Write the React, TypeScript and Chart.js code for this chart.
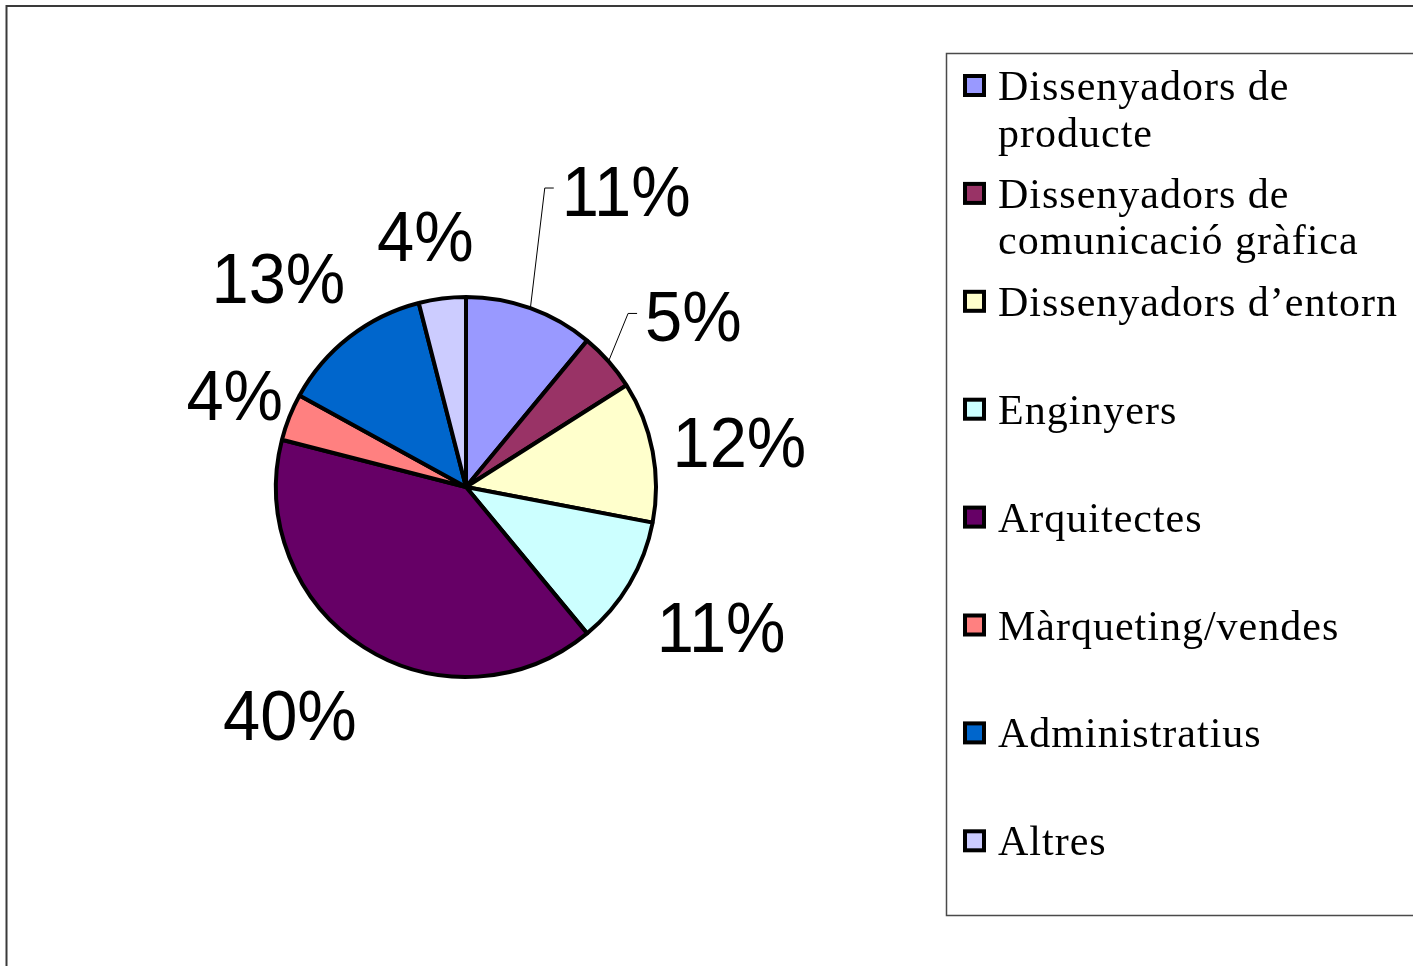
import { useEffect, useRef } from "react";
import { Chart, registerables } from "chart.js";

Chart.register(...registerables);

// ---- data ----
const categories: string[][] = [
  ["Dissenyadors de", "producte"],
  ["Dissenyadors de", "comunicació gràfica"],
  ["Dissenyadors d’entorn"],
  ["Enginyers"],
  ["Arquitectes"],
  ["Màrqueting/vendes"],
  ["Administratius"],
  ["Altres"],
];
const shares: number[] = [11, 5, 12, 11, 40, 4, 13, 4];

// ---- style ----
const sliceColors = ["#9999FF", "#993366", "#FFFFCC", "#CCFFFF", "#660066", "#FF8080", "#0066CC", "#CCCCFF"];
// label nudges (px) relative to automatic placement; the first two have leader lines
const labelDrag: number[][] = [[72, -51], [26, 7], [-9, 9], [10, -5], [-30, -2], [20, 7], [-18, 10], [-10, -8]];
const leaderLine: boolean[] = [true, true, false, false, false, false, false, false];

const W = 1413;
const H = 966;
const CX = 466;
const CY = 487;
const R = 190;
const BW = 4;
const LABEL_FONT = "70px 'Liberation Sans', Arial, sans-serif";
const LABEL_SCALE_X = 0.955;
const CAP = 50;
const GAP = 24;

const pieLabels = {
  id: "pieLabels",
  afterDatasetsDraw(chart: any) {
    const ctx = chart.ctx as CanvasRenderingContext2D;
    const meta = chart.getDatasetMeta(0);
    const data = chart.data.datasets[0].data as number[];
    const total = data.reduce((a, b) => a + b, 0);
    ctx.save();
    ctx.font = LABEL_FONT;
    ctx.fillStyle = "#000";
    ctx.textAlign = "center";
    ctx.textBaseline = "alphabetic";
    meta.data.forEach((arc: any, i: number) => {
      const p = arc.getProps(["x", "y", "startAngle", "endAngle", "outerRadius"], true);
      const R0 = R;
      const mid = (p.startAngle + p.endAngle) / 2;
      const ux = Math.cos(mid);
      const uy = Math.sin(mid);
      const text = Math.round((data[i] / total) * 100) + "%";
      const w = ctx.measureText(text).width;
      const ext = Math.abs(ux) * w / 2 + Math.abs(uy) * CAP / 2;
      const d = R0 + GAP + ext;
      const [dx, dy] = labelDrag[i];
      const cx = p.x + ux * d + dx;
      const cy = p.y + uy * d + dy;
      const ws = w * LABEL_SCALE_X;
      if (leaderLine[i]) {
        const ax = p.x + ux * R0;
        const ay = p.y + uy * R0;
        const left = cx - ws / 2;
        ctx.save();
        ctx.strokeStyle = "#000";
        ctx.lineWidth = 1;
        ctx.beginPath();
        ctx.moveTo(ax, ay);
        ctx.lineTo(left - 17, cy - 3);
        ctx.lineTo(left - 8, cy - 3);
        ctx.stroke();
        ctx.restore();
      }
      ctx.save();
      ctx.translate(cx, cy + CAP / 2);
      ctx.scale(LABEL_SCALE_X, 1);
      ctx.fillText(text, 0, 0);
      ctx.restore();
    });
    ctx.restore();
  },
};

const frameAndLegend = {
  id: "frameAndLegend",
  afterDraw(chart: any) {
    const ctx = chart.ctx as CanvasRenderingContext2D;
    const labels = chart.data.labels as string[][];
    const colors = chart.data.datasets[0].backgroundColor as string[];
    ctx.save();
    // outer frame
    ctx.strokeStyle = "#3a3a3a";
    ctx.lineWidth = 2;
    ctx.beginPath();
    ctx.moveTo(6.5, chart.height + 2);
    ctx.lineTo(6.5, 6);
    ctx.lineTo(chart.width + 2, 6);
    ctx.stroke();
    // legend box
    ctx.strokeStyle = "#4a4a4a";
    ctx.lineWidth = 1.5;
    ctx.beginPath();
    ctx.moveTo(chart.width + 2, 53.5);
    ctx.lineTo(946.5, 53.5);
    ctx.lineTo(946.5, 915.5);
    ctx.lineTo(chart.width + 2, 915.5);
    ctx.stroke();
    // items
    ctx.font = "42px 'Liberation Serif', 'Times New Roman', serif";
    (ctx as any).letterSpacing = "1px";
    ctx.textAlign = "left";
    ctx.textBaseline = "alphabetic";
    labels.forEach((lines, i) => {
      const base = 100 + i * 107.9;
      ctx.fillStyle = "#000";
      ctx.fillRect(963, base - 26, 23, 23);
      ctx.fillStyle = colors[i];
      ctx.fillRect(967, base - 22, 15, 15);
      ctx.fillStyle = "#000";
      lines.forEach((ln, j) => ctx.fillText(ln, 998, base + j * 46.5));
    });
    ctx.restore();
  },
};

export default function App() {
  const ref = useRef<HTMLCanvasElement | null>(null);
  useEffect(() => {
    if (!ref.current) return;
    const side = 2 * R + BW;
    const chart = new Chart(ref.current, {
      type: "pie",
      data: {
        labels: categories,
        datasets: [
          {
            data: shares,
            backgroundColor: sliceColors,
            borderColor: "#000",
            borderWidth: BW,
            hoverOffset: 0,
          },
        ],
      },
      options: {
        animation: false,
        responsive: true,
        maintainAspectRatio: false,
        events: [],
        layout: {
          padding: {
            left: CX - side / 2,
            top: CY - side / 2,
            right: W - (CX + side / 2),
            bottom: H - (CY + side / 2),
          },
        },
        plugins: {
          legend: { display: false },
          tooltip: { enabled: false },
        },
      },
      plugins: [pieLabels, frameAndLegend],
    });
    return () => chart.destroy();
  }, []);
  return (
    <div style={{ position: "fixed", left: 0, top: 0, width: W, height: H, background: "#fff" }}>
      <canvas ref={ref} />
    </div>
  );
}
